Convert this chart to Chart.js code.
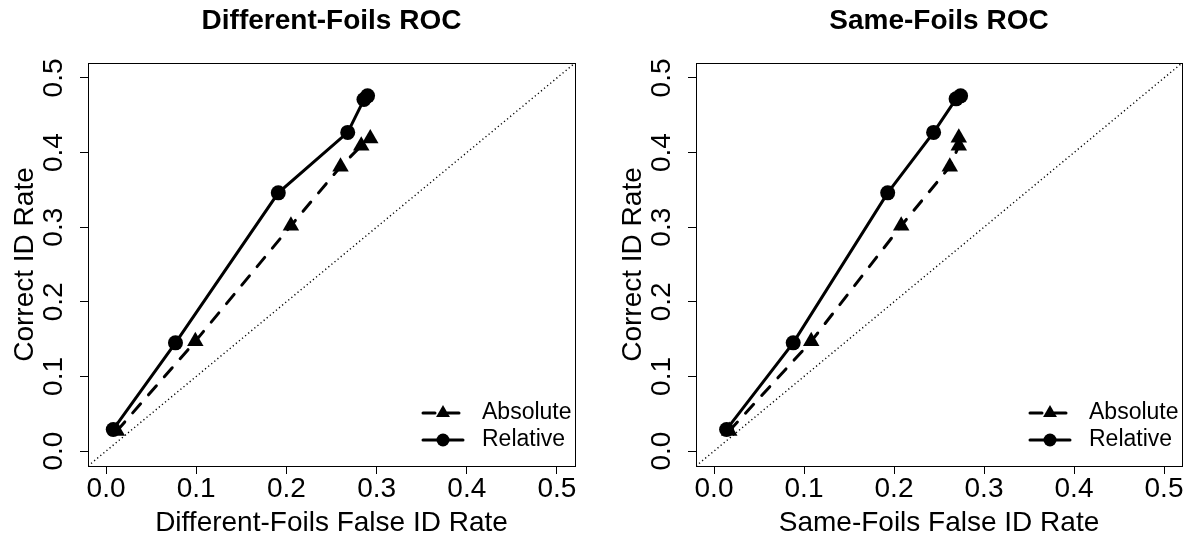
<!DOCTYPE html>
<html>
<head>
<meta charset="utf-8">
<script src="https://cdn.jsdelivr.net/npm/chart.js@4.4.1/dist/chart.umd.min.js"></script>
<style>
  body { margin: 0; background: #fff; }
  .panel { position: absolute; top: 0; width: 599px; height: 538px; }
</style>
</head>
<body>
<div class="panel" style="left:0"><canvas id="diff" width="599" height="538"></canvas></div>
<div class="panel" style="left:599px"><canvas id="same" width="599" height="538"></canvas></div>
<script>
// axis ticks shared by both panels
const tickVals = [0, 0.1, 0.2, 0.3, 0.4, 0.5];
const axisMin = -0.02;
const axisMax = 0.52;
const diagonal = [axisMin, axisMax];

// Different-Foils panel
const diffAbsFA  = [0.012, 0.099, 0.205, 0.260, 0.283, 0.293];
const diffAbsHit = [0.027, 0.147, 0.302, 0.381, 0.409, 0.419];
const diffRelFA  = [0.008, 0.077, 0.191, 0.268, 0.286, 0.290];
const diffRelHit = [0.029, 0.145, 0.346, 0.427, 0.471, 0.476];

// Same-Foils panel
const sameAbsFA  = [0.017, 0.108, 0.208, 0.262, 0.272, 0.272];
const sameAbsHit = [0.027, 0.147, 0.302, 0.381, 0.409, 0.420];
const sameRelFA  = [0.014, 0.088, 0.193, 0.244, 0.269, 0.274];
const sameRelHit = [0.029, 0.145, 0.346, 0.427, 0.472, 0.476];

const seriesNames = ["Absolute", "Relative"];

Chart.defaults.font.family = '"Liberation Sans", Arial, Helvetica, sans-serif';
Chart.defaults.color = "#000";

const toPoints = (xs, ys) => xs.map((x, i) => ({ x: x, y: ys[i] }));

// box round the plot region, like R's box()
const boxPlugin = {
  id: "rBox",
  afterDraw(chart) {
    const { ctx, chartArea: a } = chart;
    ctx.save();
    ctx.strokeStyle = "#000";
    ctx.lineWidth = 1;
    ctx.strokeRect(Math.round(a.left) + 0.5, Math.round(a.top) + 0.5,
      Math.round(a.right - a.left), Math.round(a.bottom - a.top));
    ctx.restore();
  }
};

// legend in the bottom-right corner of the plot region
const legendPlugin = {
  id: "rLegend",
  afterDraw(chart) {
    const { ctx, chartArea: a } = chart;
    const sets = chart.data.datasets.filter(d => d.label);
    ctx.save();
    sets.forEach((d, i) => {
      const y = a.bottom - 26 - (sets.length - 1 - i) * 27;
      const mx = a.right - 132;
      ctx.strokeStyle = "#000";
      ctx.fillStyle = "#000";
      ctx.lineWidth = d.borderWidth;
      ctx.lineCap = "round";
      ctx.setLineDash(d.borderDash || []);
      ctx.beginPath();
      ctx.moveTo(mx - 20, y);
      ctx.lineTo(mx + 20, y);
      ctx.stroke();
      ctx.setLineDash([]);
      ctx.beginPath();
      if (d.pointStyle === "triangle") {
        const r = 8;
        ctx.moveTo(mx, y - r);
        ctx.lineTo(mx + r * 0.866, y + r / 2);
        ctx.lineTo(mx - r * 0.866, y + r / 2);
        ctx.closePath();
      } else {
        ctx.arc(mx, y, 6.5, 0, Math.PI * 2);
      }
      ctx.fill();
      ctx.font = '23px "Liberation Sans", Arial, sans-serif';
      ctx.textAlign = "left";
      ctx.textBaseline = "middle";
      ctx.fillText(d.label, a.right - 93, y);
    });
    ctx.restore();
  }
};

const crearPanel = (id, titulo, xTitulo, absFA, absHit, relFA, relHit, yAxisWidth, rightPad) => {
  new Chart(document.getElementById(id), {
    type: "scatter",
    data: {
      datasets: [
        {
          data: toPoints(diagonal, diagonal),
          showLine: true,
          borderColor: "#000",
          borderWidth: 1.4,
          borderDash: [1.2, 2.8],
          pointRadius: 0
        },
        {
          label: seriesNames[0],
          data: toPoints(absFA, absHit),
          showLine: true,
          borderColor: "#000",
          backgroundColor: "#000",
          borderWidth: 3,
          borderDash: [12, 12],
          borderCapStyle: "round",
          pointStyle: "triangle",
          pointRadius: 9.5,
          pointBorderWidth: 0
        },
        {
          label: seriesNames[1],
          data: toPoints(relFA, relHit),
          showLine: true,
          borderColor: "#000",
          backgroundColor: "#000",
          borderWidth: 3,
          borderCapStyle: "round",
          pointStyle: "circle",
          pointRadius: 7.5,
          pointBorderWidth: 0
        }
      ]
    },
    options: {
      responsive: false,
      animation: false,
      devicePixelRatio: 1,
      layout: { padding: { left: 0, right: rightPad, top: 0, bottom: 0 } },
      plugins: {
        legend: { display: false },
        tooltip: { enabled: false },
        title: {
          display: true,
          text: titulo,
          fullSize: false,
          color: "#000",
          font: { size: 28, weight: "bold", lineHeight: 1.2 },
          padding: { top: 4, bottom: 25.4 }
        }
      },
      scales: {
        x: {
          type: "linear",
          min: axisMin,
          max: axisMax,
          afterFit: s => { s.height = 72; },
          afterBuildTicks: s => { s.ticks = tickVals.map(v => ({ value: v })); },
          ticks: {
            includeBounds: false,
            font: { size: 28, lineHeight: 1 },
            padding: 1,
            callback: v => v.toFixed(1)
          },
          grid: { drawOnChartArea: false, drawTicks: true, tickLength: 8, color: "#000" },
          border: { display: true, color: "#000" },
          title: { display: true, text: xTitulo, font: { size: 28, lineHeight: 1 }, padding: { top: 0, bottom: 1 } }
        },
        y: {
          type: "linear",
          min: axisMin,
          max: axisMax,
          afterFit: s => { s.width = yAxisWidth; },
          afterBuildTicks: s => { s.ticks = tickVals.map(v => ({ value: v })); },
          ticks: {
            includeBounds: false,
            minRotation: 90,
            maxRotation: 90,
            crossAlign: "center",
            font: { size: 28, lineHeight: 1 },
            padding: 6,
            callback: v => v.toFixed(1)
          },
          grid: { drawOnChartArea: false, drawTicks: true, tickLength: 8, color: "#000" },
          border: { display: true, color: "#000" },
          title: { display: true, text: "Correct ID Rate", font: { size: 28, lineHeight: 1 }, padding: { top: yAxisWidth - 77, bottom: 0 } }
        }
      }
    },
    plugins: [boxPlugin, legendPlugin]
  });
};

crearPanel("diff", "Different-Foils ROC", "Different-Foils False ID Rate",
  diffAbsFA, diffAbsHit, diffRelFA, diffRelHit, 88, 24);
crearPanel("same", "Same-Foils ROC", "Same-Foils False ID Rate",
  sameAbsFA, sameAbsHit, sameRelFA, sameRelHit, 97, 16);
</script>
</body>
</html>
